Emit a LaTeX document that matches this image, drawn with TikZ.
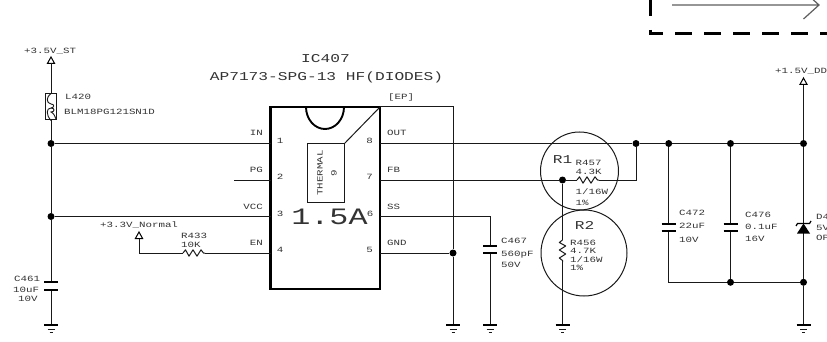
\documentclass[tikz,border=0pt]{standalone}
\usepackage{fontspec}
\setmainfont[FakeStretch=1.35]{Liberation Mono}
\definecolor{ink}{gray}{0.1}
\definecolor{txt}{gray}{0.2}
\tikzset{
  wire/.style={draw=ink,line width=1pt},
  thick wire/.style={draw=black,line width=2.2pt},
  dot/.style={circle,fill=black,inner sep=0pt,minimum size=7pt},
  lab/.style={inner sep=0pt,text=txt,anchor=mid west,font=\fontsize{8}{8}\selectfont},
  labr/.style={lab,anchor=mid east},
  labc/.style={lab,anchor=mid},
  big/.style={inner sep=0pt,text=txt,anchor=mid,font=\fontsize{12}{12}\selectfont},
  pics/gnd/.style={code={
    \draw[black,line width=1.9pt] (-7,0)--(7,0);
    \draw[ink,line width=1.1pt] (-3.5,4.5)--(3.5,4.5);
    \draw[ink,line width=1.1pt] (-1.5,8)--(1.5,8);}},
  pics/rail/.style={code={
    \draw[black,line width=1pt,fill=white] (0,0)--(3.6,6.5)--(-3.6,6.5)--cycle;}},
  pics/capv/.style={code={
    \draw[black,line width=1.9pt] (-7,0)--(7,0) (-7,7.4)--(7,7.4);}},
  pics/resh/.style={code={
    \draw[ink,line width=1pt,line join=round] (0,0)--(2.5,-3.2)--(6,3.2)--(10,-3.2)--(14,3.2)--(18,-3.2)--(20.5,0)--(22,0);}},
  pics/resv/.style={code={
    \draw[ink,line width=1pt,line join=round] (0,0)--(-3.2,2.5)--(3.2,6)--(-3.2,10)--(3.2,14)--(-3.2,18)--(0,20.5)--(0,22);}},
}
\begin{document}
\begin{tikzpicture}[x=1pt,y=-1pt]
\useasboundingbox (0,0) rectangle (827,342);
\clip (0,0) rectangle (827,342);
% top-right fragment
\coordinate (arA) at (672,5); \coordinate (arB) at (819,5); \coordinate (arC) at (803.5,19); \coordinate (arD) at (803.5,-9);
\draw[draw=ink!70!white,line width=1.2pt] (arA)--(arB) (arD)--(arB)--(arC);
\coordinate (bxA) at (650.5,-1); \coordinate (bxB) at (650.5,16); \coordinate (bxC) at (650.5,30); \coordinate (bxD) at (650.5,33.5); \coordinate (bxE) at (662.5,33.5); \coordinate (bxF) at (675,33.5); \coordinate (bxG) at (830,33.5);
\draw[black,line width=2.2pt] (bxA)--(bxB) (bxC)--(bxD)--(bxE);
\draw[black,line width=2.2pt,dash pattern=on 17pt off 12pt] (bxF)--(bxG);
% IC
\coordinate (icTL) at (270.5,107); \coordinate (icBR) at (380,289); \coordinate (icTR) at (380,107);
\draw[thick wire] (icTL) rectangle (icBR);
\coordinate (notchL) at (306,107);
\draw[black,line width=1.9pt] (notchL) arc[start angle=180,end angle=0,x radius=19,y radius=22];
\node[draw=ink,line width=1pt,minimum width=36.5pt,minimum height=58.5pt,inner sep=0pt,anchor=north west] (thermal) at (307,143.5) {};
\draw[wire] (thermal.north east)--(icTR);
\node[lab,anchor=mid,rotate=90] at (320,173) {THERMAL};
\node[lab,anchor=mid,rotate=90] at (334,173) {9};
\node[inner sep=0pt,text=txt,anchor=mid,font=\fontsize{23.5}{24}\selectfont] at (329.5,222) {1.5A};
\node[big] at (325.5,60) {IC407};
\node[big] at (326.5,78) {AP7173-SPG-13 HF(DIODES)};
% pin ends
\coordinate (p1) at (270.5,143.5); \coordinate (p2) at (270.5,180); \coordinate (p3) at (270.5,216.5); \coordinate (p4) at (270.5,253);
\coordinate (p8) at (380,143.5); \coordinate (p7) at (380,180); \coordinate (p6) at (380,216.5); \coordinate (p5) at (380,253);
\coordinate (pgEnd) at (234,180);
\foreach \n/\x/\y/\t in {a/280/141/1,b/280/177/2,c/280/214/3,d/280/250/4,e/369.5/141/8,f/369.5/177/7,g/370/214/6,h/369.5/250/5}
  \node[labc] at (\x,\y) {\t};
\node[labr] at (263,133) {IN};
\node[labr] at (263,170) {PG};
\node[labr] at (263,207) {VCC};
\node[labr] at (263,243) {EN};
\node[lab] at (387,133) {OUT};
\node[lab] at (387,170) {FB};
\node[lab] at (387,207) {SS};
\node[lab] at (387,243) {GND};
\node[lab] at (388,97) {[EP]};
% left rail
\coordinate (vst) at (51,63);
\pic at (51,57) {rail};
\node[lab] at (24,51) {+3.5V\_ST};
\node[draw=ink,line width=1pt,minimum width=11.5pt,minimum height=26pt,inner sep=0pt] (L) at (51,107) {};
\draw[ink,line width=0.9pt] (L.north) .. controls (46,97) and (46,103) .. (51,104) .. controls (55,104) and (54,108) .. (51,108) .. controls (46,108) and (46,115) .. (L.south);
\draw[ink,line width=0.9pt] (51,108) .. controls (55,108) and (55,112) .. (51,112) .. controls (54,113) and (55,117) .. (56,119);
\node[lab] at (65,97) {L420};
\node[lab] at (64,112) {BLM18PG121SN1D};
\node[dot] (j1) at (51,143.5) {};
\node[dot] (j2) at (51,216.5) {};
\coordinate (c461a) at (51,282.3); \coordinate (c461b) at (51,289.7); \coordinate (g1) at (51,324.7);
\draw[wire] (vst)--(L.north) (L.south)--(j1)--(j2)--(c461a) (c461b)--(g1);
\pic at (c461a) {capv};
\pic at (g1) {gnd};
\draw[wire] (j1)--(p1) (j2)--(p3) (pgEnd)--(p2);
\node[lab] at (14,279) {C461};
\node[lab] at (13,290) {10uF};
\node[lab] at (18,298.5) {10V};
% EN
\coordinate (v33) at (139,239); \coordinate (v33c) at (139,253); \coordinate (r433a) at (183,253); \coordinate (r433b) at (205,253);
\pic at (139,232) {rail};
\draw[wire] (v33)--(v33c)--(r433a) (r433b)--(p4);
\pic at (r433a) {resh};
\node[lab] at (100,225) {+3.3V\_Normal};
\node[lab] at (181,236) {R433};
\node[lab] at (181,245) {10K};
% EP / GND
\node[dot] (j3) at (453,253) {};
\coordinate (epT) at (453,107); \coordinate (g2) at (453,324.7);
\draw[wire] (icTR)--(epT)--(j3)--(g2) (p5)--(j3);
\pic at (g2) {gnd};
% SS
\coordinate (ssT) at (490,216.5); \coordinate (c467a) at (490,246); \coordinate (c467b) at (490,253.4); \coordinate (g3) at (490,324.7);
\draw[wire] (p6)--(ssT)--(c467a) (c467b)--(g3);
\pic at (c467a) {capv};
\pic at (g3) {gnd};
\node[lab] at (501,241) {C467};
\node[lab] at (501,254) {560pF};
\node[lab] at (501,265) {50V};
% output
\node[dot] (j4) at (636,143.5) {};
\node[dot] (j5) at (668.7,143.5) {};
\node[dot] (j6) at (730.5,143.5) {};
\node[dot] (j7) at (803.5,143.5) {};
\draw[wire] (p8)--(j4)--(j5)--(j6)--(j7);
% FB
\node[dot] (j8) at (562.5,180) {};
\coordinate (r457a) at (577,180); \coordinate (r457b) at (599,180); \coordinate (fbC) at (636,180);
\draw[wire] (p7)--(j8)--(r457a) (r457b)--(fbC)--(j4);
\pic at (r457a) {resh};
\coordinate (r456a) at (562.5,240); \coordinate (r456b) at (562.5,262); \coordinate (g4) at (562.5,324.7);
\draw[wire] (j8)--(r456a) (r456b)--(g4);
\pic at (r456a) {resv};
\pic at (g4) {gnd};
\node[circle,draw=ink,line width=1pt,minimum size=78pt,inner sep=0pt] (R1c) at (579.5,171) {};
\node[circle,draw=ink,line width=1pt,minimum size=86pt,inner sep=0pt] (R2c) at (584,253) {};
\node[big] at (562.5,161) {R1};
\node[big] at (584.5,227) {R2};
\node[lab] at (575.5,163) {R457};
\node[lab] at (575.5,172) {4.3K};
\node[lab] at (575.5,192) {1/16W};
\node[lab] at (575.5,203) {1\%};
\node[lab] at (570,243) {R456};
\node[lab] at (570,251) {4.7K};
\node[lab] at (570,259.5) {1/16W};
\node[lab] at (570,268) {1\%};
% output caps
\coordinate (c472a) at (668.7,224); \coordinate (c472b) at (668.7,231.4); \coordinate (c476a) at (730.5,224); \coordinate (c476b) at (730.5,231.4);
\coordinate (bl) at (668.7,282.3);
\node[dot] (j9) at (730.5,282.3) {};
\node[dot] (j10) at (803.5,282.3) {};
\coordinate (g5) at (803.5,324.7);
\draw[wire] (j5)--(c472a) (c472b)--(bl)--(j9)--(j10)--(g5) (j6)--(c476a) (c476b)--(j9);
\pic at (c472a) {capv};
\pic at (c476a) {capv};
\pic at (g5) {gnd};
\node[lab] at (679,213) {C472};
\node[lab] at (679,226) {22uF};
\node[lab] at (679,240) {10V};
\node[lab] at (745,215) {C476};
\node[lab] at (745,227) {0.1uF};
\node[lab] at (745,239) {16V};
% rail 1.5V and diode
\coordinate (v15) at (803.5,85);
\pic at (803.5,78) {rail};
\coordinate (dk) at (803.5,223.5);
\draw[wire] (v15)--(j7)--(dk) (dk)--(j10);
\fill[black] (dk)--(810,233.5)--(797,233.5)--cycle;
\draw[black,line width=1.2pt] (796,226)--(797.5,223.5)--(809.5,223.5)--(811,221);
\node[lab] at (816,217) {D4};
\node[lab] at (816,228) {5V};
\node[lab] at (816,237.5) {OP};
\node[lab] at (775,71) {+1.5V\_DD};
\end{tikzpicture}
\end{document}
